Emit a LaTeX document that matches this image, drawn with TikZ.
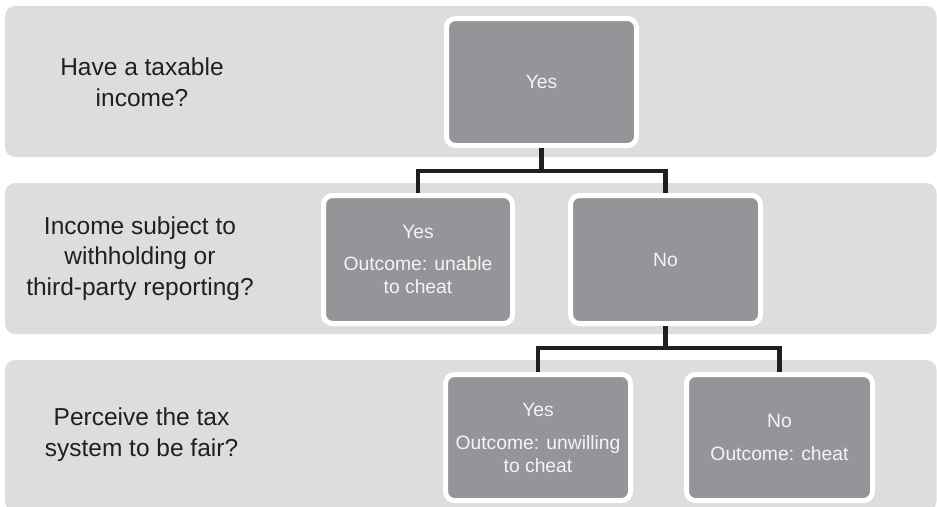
\documentclass[tikz,border=0pt]{standalone}
\usepackage{fontspec}
\setmainfont{Liberation Sans}
\definecolor{bandgray}{HTML}{DCDDDF}
\definecolor{boxgray}{HTML}{939598}
\definecolor{inkdark}{HTML}{231F20}
\definecolor{boxtext}{HTML}{F4F4F4}
\begin{document}
\begin{tikzpicture}[x=1pt,y=-1pt,
  band/.style={fill=bandgray,draw=none,rounded corners=10pt},
  qlabel/.style={text=inkdark,align=center,inner sep=0pt,font=\fontsize{24.5}{30.5}\selectfont},
  choice/.style={draw=white,line width=5pt,fill=boxgray,rounded corners=9pt,inner sep=0pt,
     text=boxtext,align=center,font=\fontsize{19.3}{23}\selectfont},
  link/.style={draw=inkdark,line width=4.5pt}]
\useasboundingbox (0,0) rectangle (937,506);
\clip (0,0) rectangle (937,506);
% bands
\path[band] (5,6) rectangle (936.5,157);
\path[band] (5,183) rectangle (936.5,334);
\path[band] (5,360) rectangle (936.5,511);
% question labels
\node[qlabel] (q1) at (142,82) {Have a taxable\\income?};
\node[qlabel] (q2) at (140,258.5) {Income subject to\\withholding or\\third-party reporting?};
\node[qlabel] (q3) at (141.5,434.5) {Perceive the tax\\system to be fair?};
% boxes
\node[choice,minimum width=190pt,minimum height=127pt] (top) at (541.5,82) {Yes};
\node[choice,minimum width=189pt,minimum height=128pt] (ry) at (418,259.5) {Yes\\[9pt]Outcome: unable\\to cheat};
\node[choice,minimum width=190pt,minimum height=128pt] (rn) at (665.5,259.5) {No};
\node[choice,minimum width=185pt,minimum height=126pt] (sy) at (538,437.5) {Yes\\[10pt]Outcome: unwilling\\to cheat};
\node[choice,minimum width=186pt,minimum height=126pt] (sn) at (779.5,437.5) {No\\[10pt]Outcome: cheat};
% connectors
\coordinate (j1) at ([yshift=-23pt]top.south);
\coordinate (j2) at ([yshift=-22pt]rn.south);
\draw[link] (top.south) -- (j1);
\draw[link] (ry.north) |- (j1) -| (rn.north);
\draw[link] (rn.south) -- (j2);
\draw[link] (sy.north) |- (j2) -| (sn.north);
\end{tikzpicture}
\end{document}
